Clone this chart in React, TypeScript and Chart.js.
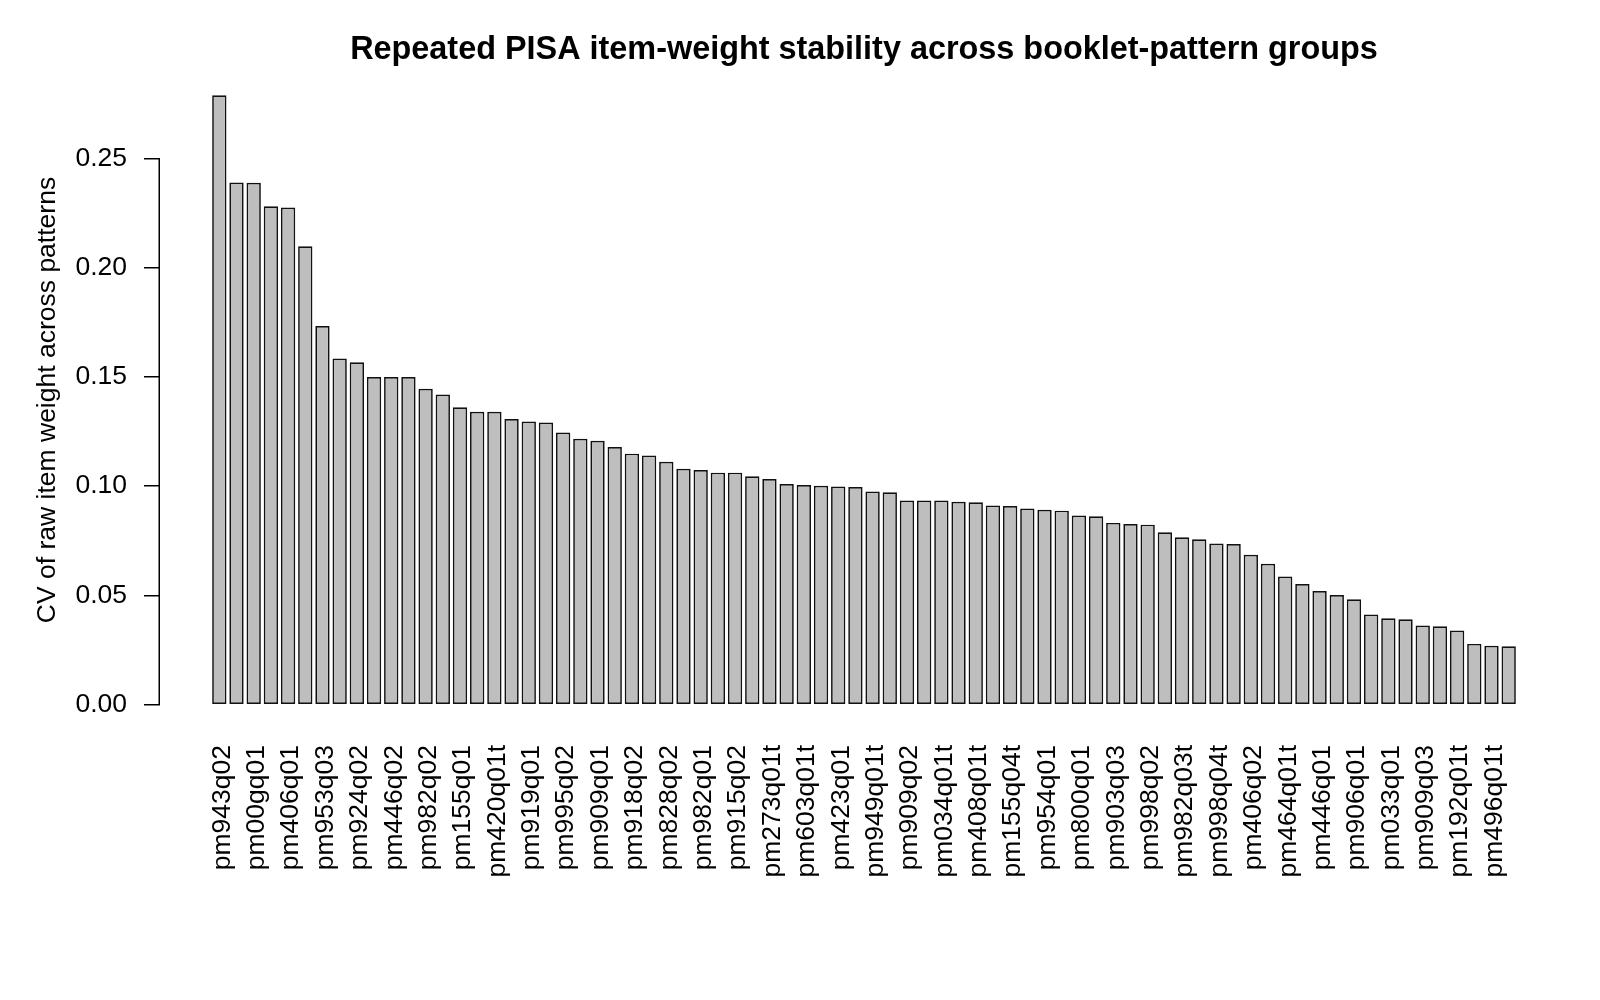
import React, { useEffect, useRef } from 'react';
import { Chart, registerables } from 'chart.js';

Chart.register(...registerables);

// labels R could fit: every other bar (bars 1, 3, 5, ...)
const shownLabels: string[] = [
  'pm943q02', 'pm00gq01', 'pm406q01', 'pm953q03', 'pm924q02', 'pm446q02',
  'pm982q02', 'pm155q01', 'pm420q01t', 'pm919q01', 'pm995q02', 'pm909q01',
  'pm918q02', 'pm828q02', 'pm982q01', 'pm915q02', 'pm273q01t', 'pm603q01t',
  'pm423q01', 'pm949q01t', 'pm909q02', 'pm034q01t', 'pm408q01t', 'pm155q04t',
  'pm954q01', 'pm800q01', 'pm903q03', 'pm998q02', 'pm982q03t', 'pm998q04t',
  'pm406q02', 'pm464q01t', 'pm446q01', 'pm906q01', 'pm033q01', 'pm909q03',
  'pm192q01t', 'pm496q01t',
];

// CV per item, sorted descending
const cvValues: number[] = [
  0.2789, 0.2390, 0.2389, 0.2281, 0.2276, 0.2098, 0.1733, 0.1585, 0.1567, 0.1500,
  0.1500, 0.1500, 0.1446, 0.1420, 0.1361, 0.1341, 0.1341, 0.1307, 0.1296, 0.1291,
  0.1246, 0.1217, 0.1208, 0.1179, 0.1149, 0.1141, 0.1112, 0.1080, 0.1074, 0.1062,
  0.1062, 0.1045, 0.1033, 0.1010, 0.1005, 0.1002, 0.0998, 0.0996, 0.0976, 0.0972,
  0.0934, 0.0934, 0.0934, 0.0929, 0.0926, 0.0912, 0.0909, 0.0898, 0.0892, 0.0888,
  0.0866, 0.0862, 0.0832, 0.0827, 0.0824, 0.0789, 0.0766, 0.0757, 0.0738, 0.0735,
  0.0686, 0.0645, 0.0586, 0.0552, 0.0520, 0.0502, 0.0482, 0.0413, 0.0395, 0.0391,
  0.0362, 0.0359, 0.0339, 0.0278, 0.0269, 0.0267,
];

const yTicks: number[] = [0, 0.05, 0.1, 0.15, 0.2, 0.25];

const TITLE = 'Repeated PISA item-weight stability across booklet-pattern groups';
const Y_TITLE = 'CV of raw item weight across patterns';
const FONT = "'Liberation Sans', Arial, Helvetica, sans-serif";
const FS = 26.5;

const App: React.FC = () => {
  const canvasRef = useRef<HTMLCanvasElement>(null);
  const chartRef = useRef<Chart | null>(null);

  useEffect(() => {
    if (!canvasRef.current) return;
    const ctx = canvasRef.current.getContext('2d');
    if (!ctx) return;

    if (chartRef.current) chartRef.current.destroy();

    const maxV = Math.max(...cvValues);
    const n = cvValues.length;

    // R-style axis line (only spans the tick range) plus the main title
    const rDecor = {
      id: 'rDecor',
      afterDraw(chart: Chart) {
        const c = chart.ctx;
        const y = chart.scales.y;
        const area = chart.chartArea;
        c.save();
        c.strokeStyle = '#000';
        c.lineWidth = 1.5;
        const x0 = y.right - 0.75;
        c.beginPath();
        c.moveTo(x0, y.getPixelForValue(yTicks[0]));
        c.lineTo(x0, y.getPixelForValue(yTicks[yTicks.length - 1]));
        c.stroke();

        c.fillStyle = '#000';
        c.font = `bold 32.4px ${FONT}`;
        c.textAlign = 'center';
        c.textBaseline = 'middle';
        c.fillText(TITLE, (area.left + area.right) / 2, 50);
        c.restore();
      },
    };

    chartRef.current = new Chart(ctx, {
      type: 'bar',
      data: {
        datasets: [
          {
            data: cvValues.map((v, i) => ({ x: i, y: v })),
            backgroundColor: '#bebebe',
            borderColor: '#111',
            borderWidth: 1.7,
            borderSkipped: false,
            barPercentage: 1 / 1.2,
            categoryPercentage: 1,
          },
        ],
      },
      options: {
        responsive: false,
        animation: false,
        layout: { padding: { top: 71, right: 32, bottom: 0, left: 0 } },
        plugins: {
          legend: { display: false },
          tooltip: { enabled: false },
          title: { display: false },
        },
        scales: {
          x: {
            type: 'linear',
            offset: false,
            min: -3.45,
            max: n - 1 + 3.45,
            grid: { display: false, drawTicks: false },
            border: { display: false },
            afterFit: (scale: any) => {
              scale.height = 271;
            },
            afterBuildTicks: (scale: any) => {
              scale.ticks = shownLabels.map((_, k) => ({ value: k * 2 }));
            },
            ticks: {
              autoSkip: false,
              minRotation: 90,
              maxRotation: 90,
              padding: 16,
              labelOffset: 3,
              color: '#000',
              font: { family: FONT, size: FS },
              callback: (value: any) => shownLabels[Math.round(Number(value) / 2)] ?? '',
            },
          },
          y: {
            min: -0.04 * maxV,
            max: 1.04 * maxV,
            afterFit: (scale: any) => {
              scale.width = 160;
            },
            afterBuildTicks: (scale: any) => {
              scale.ticks = yTicks.map((v) => ({ value: v }));
            },
            grid: {
              drawOnChartArea: false,
              drawTicks: true,
              tickLength: 16,
              color: '#000',
              lineWidth: 1.5,
            },
            border: { display: false },
            ticks: {
              padding: 17,
              color: '#000',
              font: { family: FONT, size: FS },
              callback: (value: any) => Number(value).toFixed(2),
            },
            title: {
              display: true,
              text: Y_TITLE,
              color: '#000',
              font: { family: FONT, size: FS },
              padding: { top: 32, bottom: 0 },
            },
          },
        },
      },
      plugins: [rDecor],
    });

    return () => {
      chartRef.current?.destroy();
      chartRef.current = null;
    };
  }, []);

  return (
    <div style={{ position: 'absolute', left: 0, top: 0, width: 1600, height: 1000, background: '#fff' }}>
      <canvas ref={canvasRef} width={1600} height={1000}></canvas>
    </div>
  );
};

export default App;
